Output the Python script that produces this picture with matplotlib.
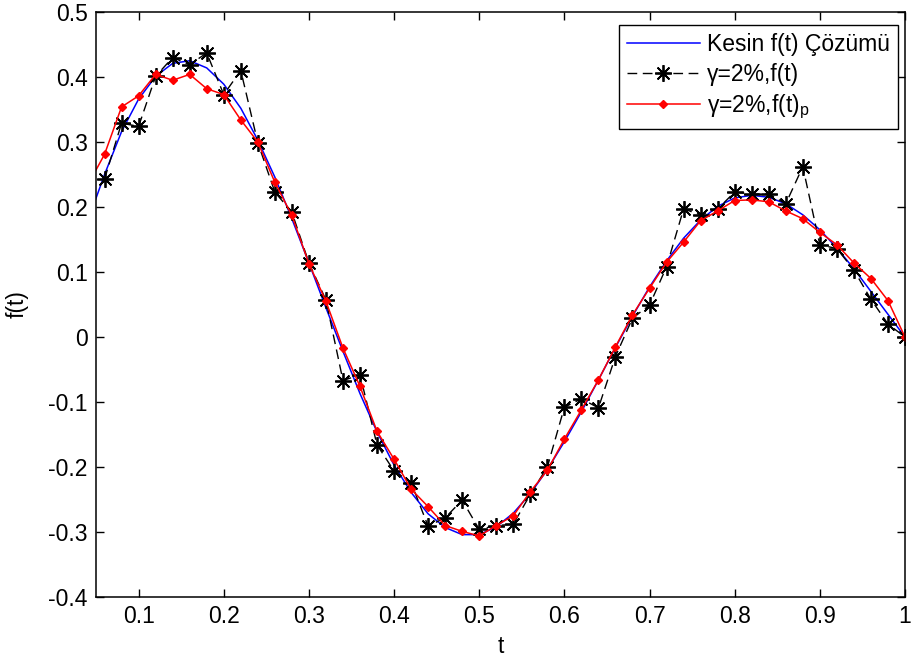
import numpy as np
import matplotlib
matplotlib.use("Agg")
import matplotlib.pyplot as plt

plt.rcParams['font.family'] = ['Liberation Sans', 'DejaVu Sans']
plt.rcParams['mathtext.fontset'] = 'custom'
plt.rcParams['mathtext.rm'] = 'Liberation Sans'
plt.rcParams['mathtext.it'] = 'Liberation Sans'
plt.rcParams['axes.unicode_minus'] = False

# exact solution
t_exact = [0.04, 0.06, 0.08, 0.10, 0.12, 0.14, 0.16, 0.18, 0.20, 0.22, 0.24, 0.26,
           0.28, 0.30, 0.32, 0.34, 0.36, 0.38, 0.40, 0.42, 0.44, 0.46, 0.48, 0.50,
           0.52, 0.54, 0.56, 0.58, 0.60, 0.62, 0.64, 0.66, 0.68, 0.70, 0.72, 0.74,
           0.76, 0.78, 0.80, 0.82, 0.84, 0.86, 0.88, 0.90, 0.92, 0.94, 0.96, 0.98, 1.00]
f_exact = [0.177, 0.250, 0.316, 0.366, 0.401, 0.421, 0.425, 0.414, 0.389, 0.352, 0.303, 0.246,
           0.182, 0.114, 0.045, -0.022, -0.087, -0.146, -0.197, -0.239, -0.272, -0.293, -0.304, -0.304,
           -0.292, -0.271, -0.241, -0.204, -0.161, -0.115, -0.066, -0.016, 0.032, 0.077, 0.117, 0.152,
           0.180, 0.201, 0.214, 0.218, 0.215, 0.205, 0.188, 0.165, 0.137, 0.105, 0.070, 0.035, 0.0]

# noisy data, gamma = 2%
t_noisy = t_exact[1:]
f_noisy = [0.243, 0.329, 0.324, 0.401, 0.430, 0.419, 0.437, 0.373, 0.410, 0.299, 0.223,
           0.192, 0.114, 0.057, -0.067, -0.058, -0.166, -0.206, -0.224, -0.291, -0.278, -0.251, -0.296,
           -0.290, -0.288, -0.242, -0.200, -0.108, -0.095, -0.109, -0.030, 0.029, 0.049, 0.108, 0.197,
           0.188, 0.197, 0.223, 0.220, 0.220, 0.205, 0.262, 0.142, 0.136, 0.103, 0.058, 0.020, 0.0]

# regularised solution
t_reg = t_exact
f_reg = [0.233, 0.281, 0.354, 0.371, 0.404, 0.395, 0.404, 0.382, 0.373, 0.334, 0.300, 0.238,
         0.187, 0.113, 0.055, -0.017, -0.076, -0.145, -0.188, -0.234, -0.261, -0.290, -0.299, -0.306,
         -0.290, -0.275, -0.238, -0.205, -0.157, -0.112, -0.066, -0.015, 0.034, 0.075, 0.115, 0.146,
         0.179, 0.194, 0.210, 0.211, 0.208, 0.194, 0.182, 0.161, 0.142, 0.114, 0.090, 0.056, 0.0]

xticks = [0.1, 0.2, 0.3, 0.4, 0.5, 0.6, 0.7, 0.8, 0.9, 1.0]
yticks = [-0.4, -0.3, -0.2, -0.1, 0.0, 0.1, 0.2, 0.3, 0.4, 0.5]

fig = plt.figure(figsize=(9.11, 6.63), dpi=100)
ax = fig.add_axes([0.1054, 0.0995, 0.888, 0.8824])

ax.plot(t_exact, f_exact, color='#0000ff', lw=1.1, label='Kesin f(t) Çözümü')
ax.plot(t_noisy, f_noisy, color='black', lw=1.0, ls=(0, (7, 4)), marker=(8, 2, 0),
        markersize=12, markeredgewidth=1.3, label='γ=2%,f(t)')
ax.plot(t_reg, f_reg, color='#ff0000', lw=1.1, marker='D', markersize=4.5,
        label='γ=2%,f(t)$_\\mathrm{p}$')

ax.set_xlim(0.05, 1.0)
ax.set_ylim(-0.4, 0.5)
ax.set_xticks(xticks)
ax.set_xticklabels(['%g' % v for v in xticks])
ax.set_yticks(yticks)
ax.set_yticklabels(['%g' % round(v, 1) for v in yticks])
ax.tick_params(direction='in', length=6, width=1, top=True, right=True,
               labelsize=16.5, pad=6, colors='black')
for s in ax.spines.values():
    s.set_linewidth(1.1)

ax.set_xlabel('t', fontsize=16.5, labelpad=5)
ax.set_ylabel('f(t)', fontsize=16.5, labelpad=14)

leg = ax.legend(loc='upper right', bbox_to_anchor=(0.991, 0.978), borderaxespad=0,
                fontsize=16.5, fancybox=False, framealpha=1, edgecolor='black',
                handlelength=3.2, numpoints=1, labelspacing=0.3, borderpad=0.35,
                handletextpad=0.3)
leg.get_frame().set_linewidth(1.0)

fig.savefig('out.png', dpi=100)
